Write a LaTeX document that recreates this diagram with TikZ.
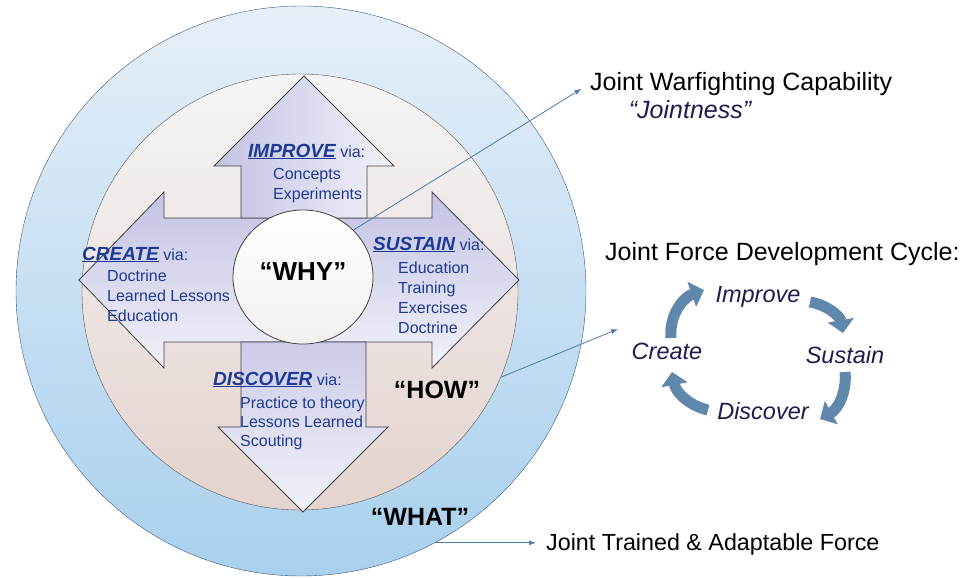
\documentclass[tikz,border=0pt]{standalone}
\usepackage{fontspec}
\setmainfont{Liberation Sans}
\usetikzlibrary{arrows.meta,shapes.geometric}
\definecolor{viablue}{RGB}{30,58,150}
\definecolor{navy}{RGB}{28,28,80}
\definecolor{linkblue}{RGB}{76,123,170}
\definecolor{ringedge}{RGB}{60,92,125}
\definecolor{ringtop}{RGB}{230,239,248}
\definecolor{ringblue}{RGB}{168,208,238}
\definecolor{pinkish}{RGB}{228,211,206}
\definecolor{lavender}{RGB}{194,194,228}
\definecolor{lavlight}{RGB}{242,242,250}
\definecolor{cyclearr}{RGB}{96,135,172}
\newcommand\viahead[1]{\underline{\fontsize{19}{20}\selectfont\bfseries\itshape #1}~via:}

\begin{document}
\begin{tikzpicture}[x=1pt,y=-1pt,
    ring/.style={circle,inner sep=0pt},
    arm/.style={draw=black!75,line width=0.8pt},
    hdr/.style={anchor=base west,inner sep=0pt,text=viablue,font=\fontsize{16}{20}\selectfont},
    item/.style={anchor=base west,inner sep=0pt,text=viablue,font=\fontsize{16}{20}\selectfont},
    bigword/.style={inner sep=0pt,font=\fontsize{25}{30}\selectfont\bfseries},
    note/.style={anchor=base west,inner sep=0pt,font=\fontsize{25}{30}\selectfont},
    cycword/.style={anchor=base,inner sep=0pt,text=navy,font=\fontsize{23.5}{28}\selectfont\itshape},
    cyclearrow/.style={draw=cyclearr,line width=11pt,-{Triangle[length=13pt,width=26pt]}},
    pointer/.style={draw=linkblue,line width=0.8pt,-{Latex[length=7pt,width=5pt]}}]
    \useasboundingbox (0,0) rectangle (963,578);
    % rings
    \node[ring,draw=ringedge,top color=ringtop,bottom color=ringblue,minimum size=570] (outer) at (301,291) {};
    \node[ring,draw=black!65,top color=white!96!black,bottom color=pinkish,minimum size=436] (inner) at (300,292) {};
    % cross of arrows
    \path[arm,top color=lavender,bottom color=lavlight] (79,280) -- (164,192) -- (164,218) -- (432,218) -- (432,192) -- (519,280)
        -- (432,368) -- (432,342) -- (164,342) -- (164,368) -- cycle;
    \path[arm,left color=lavender,right color=lavlight] (241,218) -- (241,166) -- (214,166) -- (304,76) -- (394,166) -- (367,166) -- (367,218) -- cycle;
    \path[arm,top color=lavender!80!lavlight,bottom color=lavlight] (241,342) -- (241,427) -- (218,427) -- (303,512) -- (388,427) -- (366,427) -- (366,342) -- cycle;
    \node[ellipse,arm,top color=white,bottom color=pinkish!85!black!20!white,minimum width=140,minimum height=134,
        font=\fontsize{26}{30}\selectfont\bfseries,text depth=10pt] (why) at (303,277) {“WHY”};
    % texts on the arms
    \node[hdr] (improve) at (248,157) {\viahead{IMPROVE}};
    \foreach \t [count=\i] in {Concepts,Experiments}
        \node[item] (improve\i) at (273,159+20*\i) {\t};
    \node[hdr] (create) at (82,260) {\viahead{CREATE}};
    \foreach \t [count=\i] in {Doctrine,Learned Lessons,Education}
        \node[item] (create\i) at (107,261+20*\i) {\t};
    \node[hdr] (sustain) at (373,250) {\viahead{SUSTAIN}};
    \foreach \t [count=\i] in {Education,Training,Exercises,Doctrine}
        \node[item] (sustain\i) at (398,253+20*\i) {\t};
    \node[hdr] (discover) at (213,385) {\viahead{DISCOVER}};
    \foreach \t [count=\i] in {Practice to theory,Lessons Learned,Scouting}
        \node[item] (discover\i) at (240,389+19*\i) {\t};
    \node[bigword] (how) at (437,390) {“HOW”};
    \node[bigword] (what) at (420,517) {“WHAT”};
    % right side
    \node[note] (jwc) at (590,90) {Joint Warfighting Capability};
    \node[cycword,anchor=center,font=\fontsize{25}{30}\selectfont\itshape] (jointness) at (690,110) {“Jointness”};
    \node[note] (jfdc) at (605,260) {Joint Force Development Cycle:};
    \node[note,font=\fontsize{23.3}{28}\selectfont] (jtaf) at (546,550) {Joint Trained \& Adaptable Force};
    \node[cycword] (cimprove) at (758,302) {Improve};
    \node[cycword] (csustain) at (845,363) {Sustain};
    \node[cycword] (cdiscover) at (763,419) {Discover};
    \node[cycword] (ccreate) at (667,359) {Create};
    \draw[cyclearrow] (671,338) .. controls (669,314) and (684,297) .. (704,290);
    \draw[cyclearrow] (810,302) .. controls (827,305) and (840,316) .. (843,333);
    \draw[cyclearrow] (845,372) .. controls (847,392) and (838,409) .. (820,419);
    \draw[cyclearrow] (708,410) .. controls (690,406) and (676,393) .. (672,372);
    % pointers
    \coordinate (cyclein) at (618,329);
    \draw[pointer,shorten >=10pt] (why.43) -- (jwc.west);
    \draw[pointer] (inner.-23) -- (cyclein);
    \draw[pointer,shorten >=10pt] (outer.-62) -- (outer.-62 -| jtaf.west);
\end{tikzpicture}
\end{document}
